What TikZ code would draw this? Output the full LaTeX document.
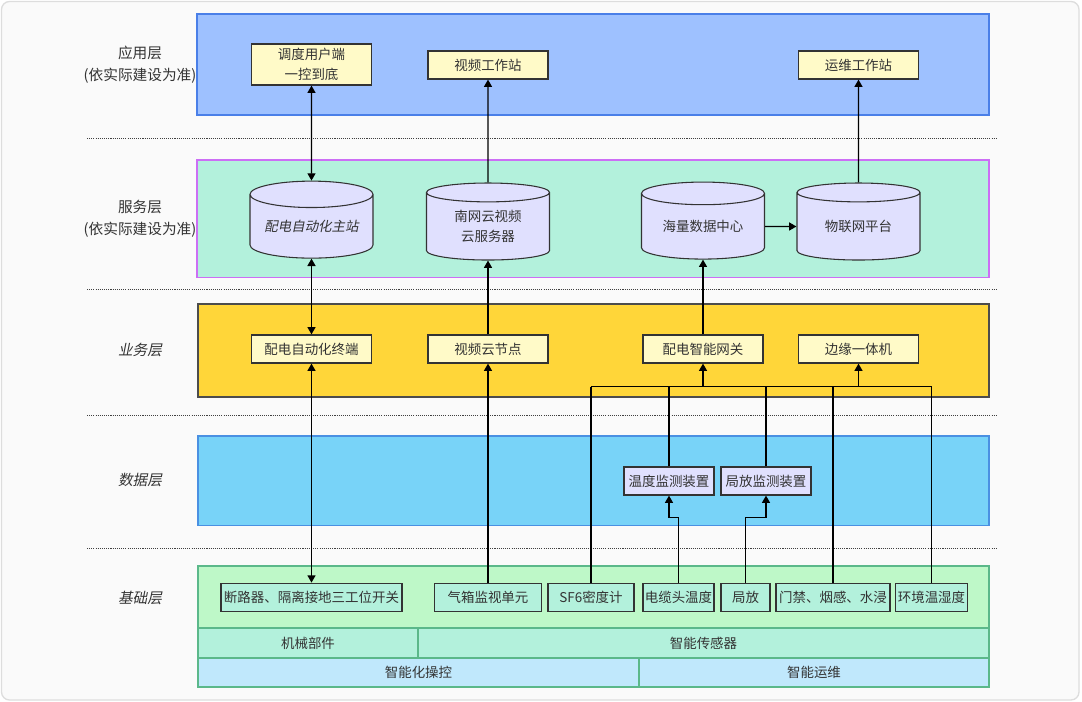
\documentclass[tikz,border=0pt]{standalone}
\usepackage{fontspec}
\setmainfont{Noto Sans CJK SC}
\newfontfamily\cursiva[FakeSlant=0.2]{Noto Sans CJK SC}
\usepackage{tikz}
\usetikzlibrary{shapes.geometric}
\usetikzlibrary{arrows.meta}

\definecolor{fondo}{HTML}{FAFAFA}
\definecolor{marco}{HTML}{DDDDDD}
\definecolor{texto}{HTML}{333333}
\definecolor{azulapp}{HTML}{9EC1FF}
\definecolor{bordeapp}{HTML}{4A7FE8}
\definecolor{menta}{HTML}{B3F1DC}
\definecolor{violeta}{HTML}{CC6EF5}
\definecolor{oro}{HTML}{FFD639}
\definecolor{celeste}{HTML}{78D3F8}
\definecolor{bordedato}{HTML}{4A90E2}
\definecolor{verde}{HTML}{BEF8C8}
\definecolor{bordeverde}{HTML}{5BB88A}
\definecolor{cielo}{HTML}{C0E8FC}
\definecolor{amarillo}{HTML}{FFFAC8}
\definecolor{lavanda}{HTML}{E0E0FE}

\begin{document}
\begin{tikzpicture}[x=0.75pt, y=-0.75pt, >={Triangle[length=5.5pt,width=6pt]},
    font=\fontsize{10.1}{15}\selectfont, text=texto]
        \tikzstyle{caja} = [draw=black!80, line width=0.9pt, inner sep=0pt, minimum height=21pt, align=center]
        \tikzstyle{app} = [caja, fill=amarillo, minimum width=90pt]
        \tikzstyle{serv} = [draw=black!80, line width=0.8pt, fill=lavanda, cylinder, shape border rotate=90, aspect=0.28, minimum width=92.25pt, minimum height=57.75pt, inner sep=0pt, align=center]
        \tikzstyle{neg} = [caja, fill=amarillo, minimum width=90pt]
        \tikzstyle{dato} = [caja, fill=lavanda, minimum width=67.5pt]
        \tikzstyle{base} = [caja, fill=menta, minimum height=21.4pt]
        \tikzstyle{fila} = [draw=bordeverde, line width=1pt, inner sep=0pt]
        \tikzstyle{capa} = [font=\fontsize{11}{16.5}\selectfont, align=center]
        \tikzstyle{enlace} = [line width=1.1pt, black]
        \tikzstyle{punteado} = [line width=0.7pt, black!75, dash pattern=on 0.8pt off 0.8pt]

        \useasboundingbox (0,0) rectangle (1082,702);
        \draw[fill=fondo, draw=marco, line width=1pt, rounded corners=6pt] (1.5,1.5) rectangle (1079,700);

        % Fondos de las capas
        \filldraw[fill=azulapp, draw=bordeapp, line width=1.1pt] (197,14) rectangle (989,115);
        \filldraw[fill=menta, draw=violeta, line width=1.1pt] (197,160) rectangle (989,277.5);
        \filldraw[fill=oro, draw=black!70, line width=1.1pt] (198,304) rectangle (989,397);
        \filldraw[fill=celeste, draw=bordedato, line width=1.1pt] (198,436) rectangle (989,525.5);
        \filldraw[fill=verde, draw=bordeverde, line width=1.1pt] (198,566) rectangle (989,628);

        \foreach \y in {138,289,415.5,548}
            \draw[punteado] (87,\y) -- (997,\y);

        % Textos de las capas
        \node[capa] (capa1) at (140,65) {应用层\\(依实际建设为准)};
        \node[capa] (capa2) at (140,219) {服务层\\(依实际建设为准)};
        \node[capa] (capa3) at (140,350) {\cursiva 业务层};
        \node[capa] (capa4) at (140,480) {\cursiva 数据层};
        \node[capa] (capa5) at (140,598) {\cursiva 基础层};

        % Capa de aplicacion
        \node[app, minimum height=30.75pt] (app1) at (311.5,64.5) {调度用户端\\一控到底};
        \node[app] (app2) at (488,65) {视频工作站};
        \node[app] (app3) at (858.5,65) {运维工作站};

        % Capa de servicio
        \node[serv] (serv1) at (311.5,226.5) {\cursiva 配电自动化主站};
        \node[serv] (serv2) at (488,226.5) {南网云视频\\云服务器};
        \node[serv] (serv3) at (703,226.5) {海量数据中心};
        \node[serv] (serv4) at (858.5,226.5) {物联网平台};

        % Capa de negocio
        \node[neg] (neg1) at (311.5,349) {配电自动化终端};
        \node[neg] (neg2) at (488,349) {视频云节点};
        \node[neg] (neg3) at (703,349) {配电智能网关};
        \node[neg] (neg4) at (858.5,349) {边缘一体机};

        % Capa de datos
        \node[dato] (dato1) at (669,481) {温度监测装置};
        \node[dato] (dato2) at (766,481) {局放监测装置};

        % Capa base
        \node[base, minimum width=135.75pt] (base1) at (311.5,597.5) {断路器、隔离接地三工位开关};
        \node[base, minimum width=80.25pt] (base2) at (488,597.5) {气箱监视单元};
        \node[base, minimum width=64.5pt] (base3) at (591,597.5) {SF6密度计};
        \node[base, minimum width=53.25pt] (base4) at (678.5,597.5) {电缆头温度};
        \node[base, minimum width=36.75pt] (base5) at (745.5,597.5) {局放};
        \node[base, minimum width=85.5pt] (base6) at (833,597.5) {门禁、烟感、水浸};
        \node[base, minimum width=54pt] (base7) at (931.5,597.5) {环境温湿度};

        \node[fila, fill=menta, minimum width=165pt, minimum height=22.5pt] (fila1) at (308,643) {机械部件};
        \node[fila, fill=menta, minimum width=428.25pt, minimum height=22.5pt] (fila2) at (703.5,643) {智能传感器};
        \node[fila, fill=cielo, minimum width=330.75pt, minimum height=21.75pt] (fila3) at (418.5,672.5) {智能化操控};
        \node[fila, fill=cielo, minimum width=262.5pt, minimum height=21.75pt] (fila4) at (814,672.5) {智能运维};

        % Enlaces verticales
        \draw[enlace, <->] (app1.south) -- (serv1.north);
        \draw[enlace, <->] (serv1.south) -- (neg1.north);
        \draw[enlace, <->] (neg1.south) -- (base1.north);
        \draw[enlace, ->] (base2.north) -- (neg2.south);
        \draw[enlace, ->] (neg2.north) -- (serv2.south);
        \draw[enlace, ->] (serv2.north) -- (app2.south);
        \draw[enlace, ->] (neg3.north) -- (serv3.south);
        \draw[enlace, ->] (serv3.east) -- (serv4.west);
        \draw[enlace, ->] (serv4.north) -- (app3.south);

        % Bus hacia la pasarela y el equipo de borde
        \coordinate (bus1) at (591,386.7);
        \coordinate (bus2) at (931.5,386.7);
        \draw[enlace] (bus1) -- (bus2);
        \foreach \n in {base3,dato1,dato2,base6,base7}
            \draw[enlace] (\n.north) -- (\n.north |- bus1);
        \draw[enlace, ->] (neg3.south |- bus1) -- (neg3.south);
        \draw[enlace, ->] (neg4.south |- bus1) -- (neg4.south);

        \draw[enlace, ->] (base4.north) -- ++(0,-65) -| (dato1.south);
        \draw[enlace, ->] (base5.north) -- ++(0,-65) -| (dato2.south);
\end{tikzpicture}
\end{document}
